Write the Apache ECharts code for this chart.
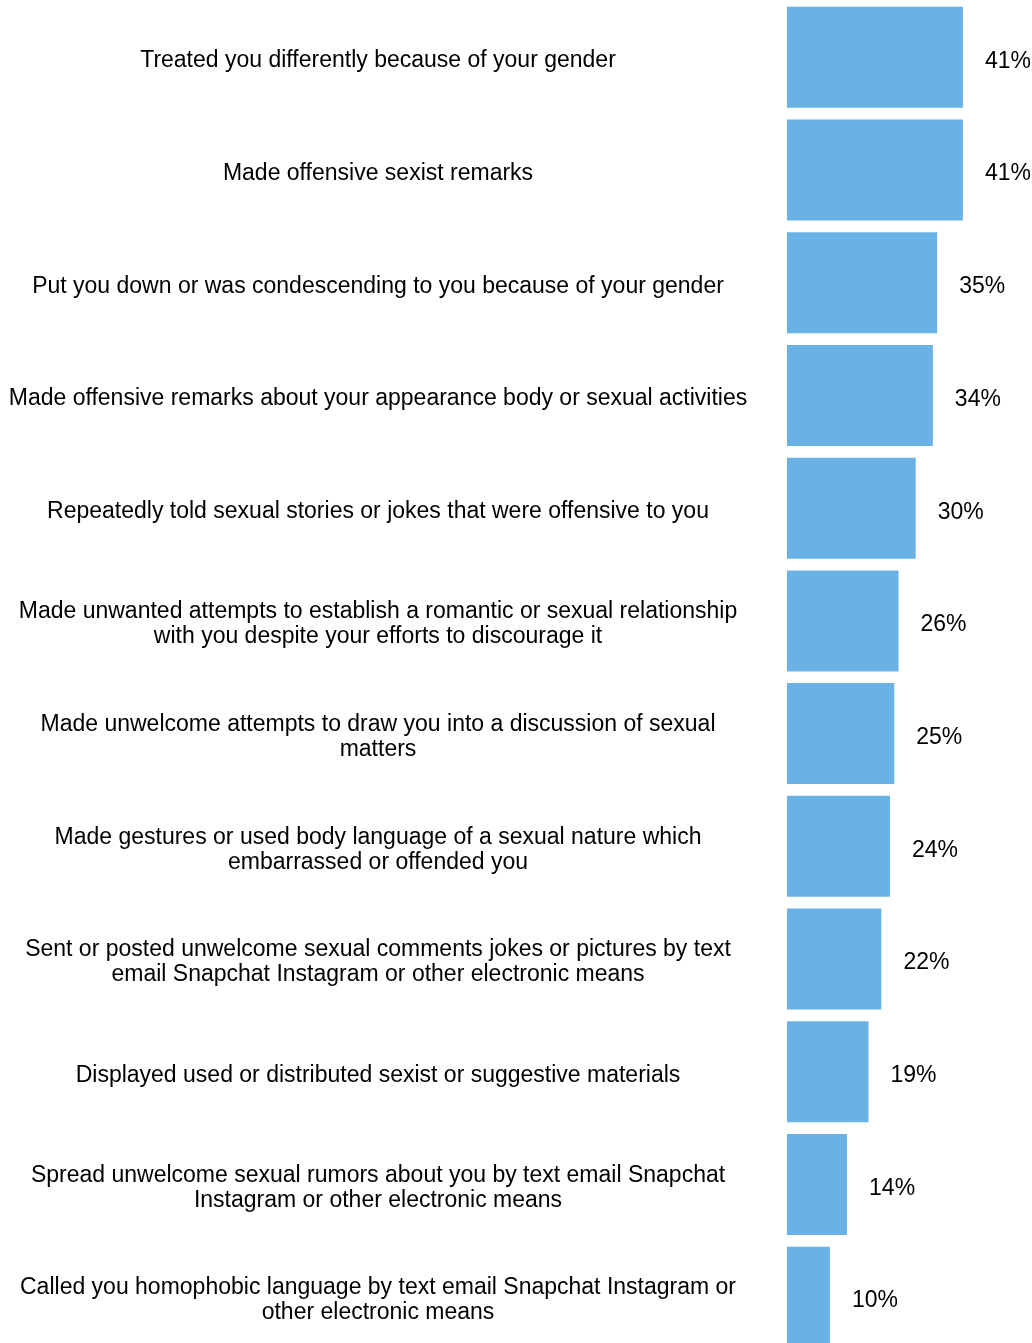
<!DOCTYPE html>
<html>
<head>
<meta charset="utf-8">
<style>
  html, body { margin: 0; padding: 0; background: #ffffff; overflow: hidden; }
  #chart { width: 1032px; height: 1360px; }
</style>
<script src="https://cdn.jsdelivr.net/npm/echarts@6/dist/echarts.min.js"></script>
</head>
<body>
<div id="chart"></div>
<script>
// Forms of harassment experienced, top to bottom
const categories = [
  'Treated you differently because of your gender',
  'Made offensive sexist remarks',
  'Put you down or was condescending to you because of your gender',
  'Made offensive remarks about your appearance body or sexual activities',
  'Repeatedly told sexual stories or jokes that were offensive to you',
  'Made unwanted attempts to establish a romantic or sexual relationship\nwith you despite your efforts to discourage it',
  'Made unwelcome attempts to draw you into a discussion of sexual\nmatters',
  'Made gestures or used body language of a sexual nature which\nembarrassed or offended you',
  'Sent or posted unwelcome sexual comments jokes or pictures by text\nemail Snapchat Instagram or other electronic means',
  'Displayed used or distributed sexist or suggestive materials',
  'Spread unwelcome sexual rumors about you by text email Snapchat\nInstagram or other electronic means',
  'Called you homophobic language by text email Snapchat Instagram or\nother electronic means'
];

// Share of respondents (%)
const percents = [41, 41, 35, 34, 30, 26, 25, 24, 22, 19, 14, 10];

const labelFont = 'Liberation Sans, Arial, sans-serif';

const chart = echarts.init(document.getElementById('chart'), null, { renderer: 'canvas' });

chart.setOption({
  animation: false,
  backgroundColor: '#ffffff',
  grid: { left: 787, top: 1, width: 214.5, height: 1352.5, containLabel: false },
  xAxis: {
    type: 'value',
    min: 0,
    max: 50,
    show: false
  },
  yAxis: {
    type: 'category',
    inverse: true,
    data: categories,
    axisLine: { show: false },
    axisTick: { show: false },
    splitLine: { show: false },
    axisLabel: {
      margin: 409,
      align: 'center',
      color: '#000000',
      fontFamily: labelFont,
      fontSize: 23,
      lineHeight: 25,
      // a thin spacer line on top nudges each label block slightly downward
      formatter: v => '{s|}\n' + v.split('\n').map(line => '{t|' + line + '}').join('\n'),
      rich: {
        s: { lineHeight: 7, fontSize: 1 },
        t: { fontSize: 23, lineHeight: 25, fontFamily: labelFont, color: '#000000', align: 'center' }
      }
    }
  },
  series: [{
    type: 'bar',
    data: percents,
    barCategoryGap: '10.4%',
    itemStyle: { color: '#6ab2e5' },
    label: {
      show: true,
      position: 'right',
      distance: 22,
      offset: [0, 4],
      color: '#000000',
      fontFamily: labelFont,
      fontSize: 23,
      formatter: p => p.value + '%'
    }
  }]
});
</script>
</body>
</html>
